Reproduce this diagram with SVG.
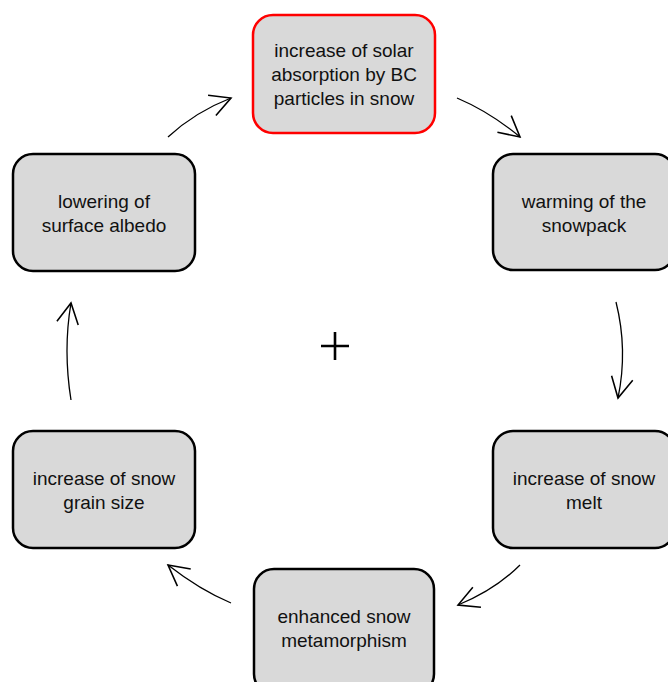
<svg xmlns="http://www.w3.org/2000/svg" width="668" height="682" viewBox="0 0 668 682">
<style>
.box{fill:#d9d9d9;stroke:#000;stroke-width:2.5}
.red{stroke:#ff0000}
.lbl{font-family:"Liberation Sans",Arial,sans-serif;font-size:19px;fill:#111;text-anchor:middle}
.arr{fill:none;stroke:#000;stroke-width:1.3;marker-end:url(#ah)}
</style>
<defs>
<marker id="ah" markerUnits="userSpaceOnUse" markerWidth="24" markerHeight="24" refX="18" refY="10" orient="auto" viewBox="0 0 20 20">
<path d="M1,1 L18,10 L1,19" fill="none" stroke="#000" stroke-width="1.3"/>
</marker>
</defs>
<rect width="668" height="682" fill="#fff"/>
<g id="connectors">
<path class="arr" d="M168,137 Q195,112 231,98"/>
<path class="arr" d="M457,98 Q490,112 520,137"/>
<path class="arr" d="M616,302 Q628,350 618,398"/>
<path class="arr" d="M520,565 Q495,590 458,605"/>
<path class="arr" d="M231,603 Q200,590 168,565"/>
<path class="arr" d="M71,400 Q63,350 71,303"/>
</g>
<g id="n1"><rect class="box red" x="253" y="15" width="182" height="118" rx="20"/>
<text class="lbl" x="344" y="57">increase of solar</text>
<text class="lbl" x="344" y="81">absorption by BC</text>
<text class="lbl" x="344" y="105">particles in snow</text></g>
<g id="n2"><rect class="box" x="493" y="154" width="182" height="116" rx="20"/>
<text class="lbl" x="584" y="208">warming of the</text>
<text class="lbl" x="584" y="232">snowpack</text></g>
<g id="n3"><rect class="box" x="493" y="431" width="182" height="117" rx="20"/>
<text class="lbl" x="584" y="485">increase of snow</text>
<text class="lbl" x="584" y="509">melt</text></g>
<g id="n4"><rect class="box" x="254" y="569" width="180" height="125" rx="20"/>
<text class="lbl" x="344" y="623">enhanced snow</text>
<text class="lbl" x="344" y="647">metamorphism</text></g>
<g id="n5"><rect class="box" x="13" y="431" width="182" height="117" rx="20"/>
<text class="lbl" x="104" y="485">increase of snow</text>
<text class="lbl" x="104" y="509">grain size</text></g>
<g id="n6"><rect class="box" x="13" y="154" width="182" height="117" rx="20"/>
<text class="lbl" x="104" y="208">lowering of</text>
<text class="lbl" x="104" y="232">surface albedo</text></g>
<g id="plus"><path d="M321,346 H349 M335,332 V360" stroke="#000" stroke-width="2.6" fill="none"/></g>
</svg>
